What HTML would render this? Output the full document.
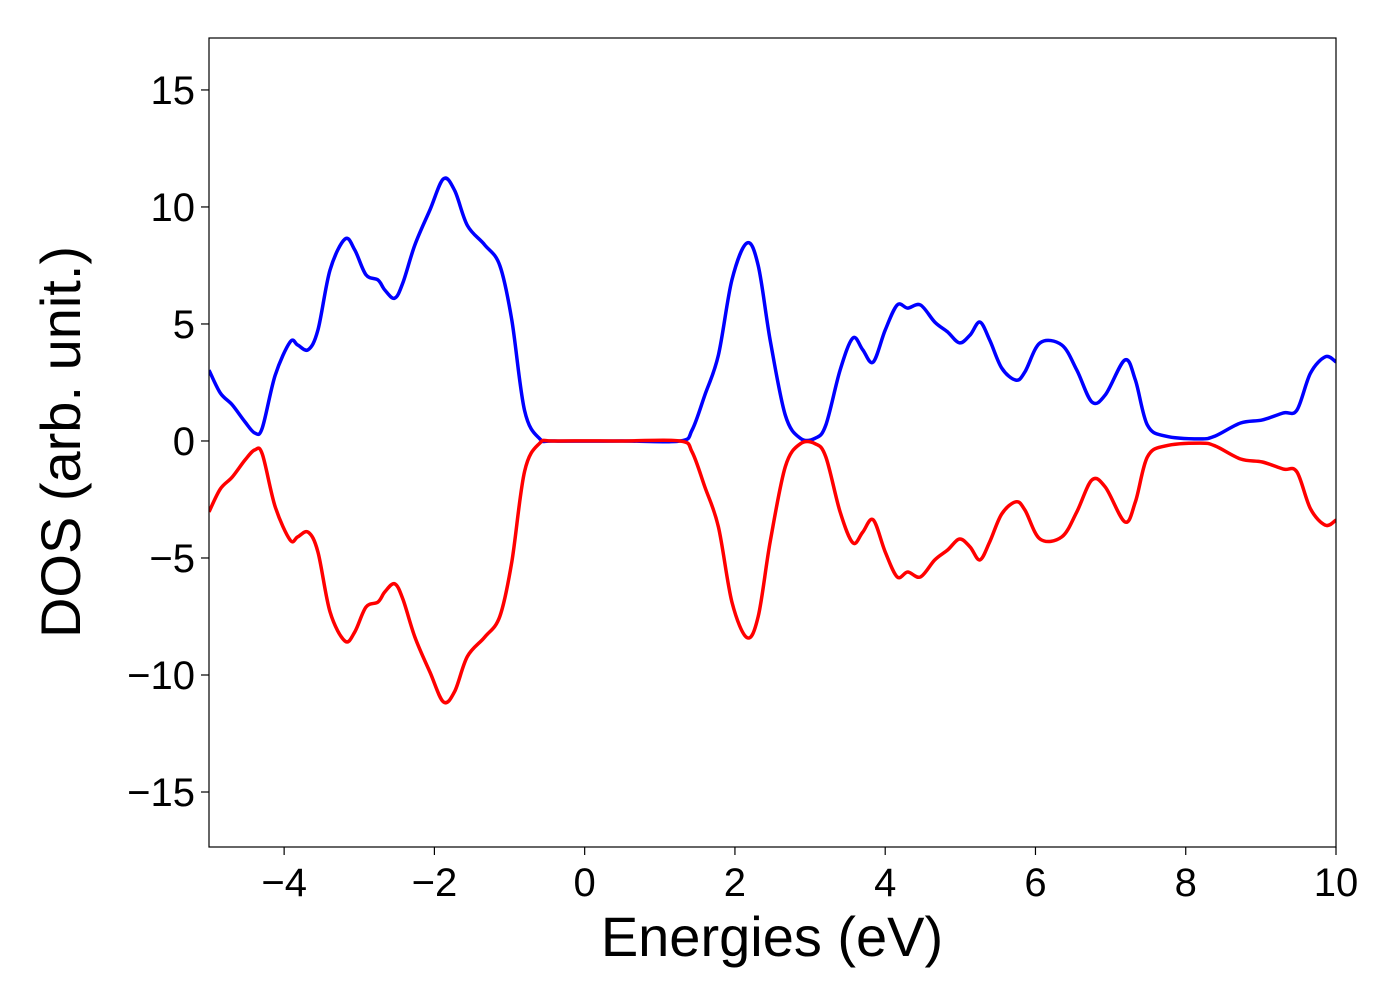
<!DOCTYPE html>
<html><head><meta charset="utf-8"><style>
html,body{margin:0;padding:0;background:#fff;}
svg text{font-family:"Liberation Sans",sans-serif;fill:#000;}
</style></head><body>
<svg id="chart" width="1400" height="1000" xmlns="http://www.w3.org/2000/svg">
<rect x="0" y="0" width="1400" height="1000" fill="#fff"/>
<g id="marks"></g>
<g id="axes"></g>
</svg>
<script>
const energies=[-5,-4.85,-4.69,-4.52,-4.39,-4.29,-4.12,-3.92,-3.82,-3.68,-3.55,-3.39,-3.19,-3.06,-2.91,-2.75,-2.66,-2.53,-2.42,-2.26,-2.06,-1.88,-1.73,-1.56,-1.33,-1.13,-0.97,-0.8,-0.6,-0.4,0.5,1.27,1.43,1.6,1.78,1.96,2.16,2.31,2.47,2.67,2.87,3.07,3.21,3.4,3.57,3.7,3.84,4.0,4.16,4.3,4.47,4.66,4.83,4.99,5.13,5.26,5.39,5.55,5.74,5.86,6.06,6.35,6.55,6.75,6.93,7.19,7.33,7.49,7.73,8.19,8.39,8.73,9.02,9.3,9.48,9.66,9.86,10];
const dosUp=[3.03,2.05,1.54,0.81,0.34,0.56,2.8,4.23,4.1,3.9,4.74,7.3,8.63,8.16,7.1,6.88,6.45,6.1,6.75,8.38,9.87,11.2,10.7,9.2,8.38,7.5,5.17,1.3,0.1,0,0,0,0.47,1.97,3.67,6.88,8.46,7.5,4.3,1.1,0.12,0.12,0.68,3.03,4.4,3.9,3.37,4.74,5.81,5.68,5.81,5.08,4.66,4.19,4.53,5.08,4.32,3.12,2.6,2.95,4.19,4.1,3.03,1.67,1.97,3.46,2.6,0.68,0.21,0.09,0.21,0.77,0.9,1.2,1.32,2.9,3.6,3.38];
const dosDown=[-3.03,-2.05,-1.54,-0.81,-0.38,-0.56,-2.8,-4.23,-4.1,-3.9,-4.74,-7.3,-8.55,-8.16,-7.1,-6.88,-6.45,-6.1,-6.75,-8.38,-9.87,-11.15,-10.7,-9.2,-8.38,-7.5,-5.17,-1.3,-0.1,0,0,0,-0.47,-1.97,-3.67,-6.88,-8.4,-7.5,-4.3,-1.1,-0.12,-0.12,-0.68,-3.03,-4.35,-3.9,-3.37,-4.74,-5.81,-5.6,-5.81,-5.08,-4.66,-4.19,-4.53,-5.08,-4.32,-3.12,-2.6,-2.95,-4.19,-4.1,-3.03,-1.67,-1.97,-3.46,-2.6,-0.68,-0.21,-0.09,-0.21,-0.77,-0.9,-1.2,-1.32,-2.9,-3.6,-3.38];
const xTicks=[-4,-2,0,2,4,6,8,10];
const yTicks=[-15,-10,-5,0,5,10,15];
const X0=209,X1=1336,Y0=38,Y1=847,xmin=-5,xmax=10,ymin=-17.35,ymax=17.22;
const sx=v=>X0+(v-xmin)/(xmax-xmin)*(X1-X0);
const sy=v=>Y1-(v-ymin)/(ymax-ymin)*(Y1-Y0);
const NS="http://www.w3.org/2000/svg";
function mk(t,a){const e=document.createElementNS(NS,t);for(const k in a)e.setAttribute(k,a[k]);return e;}
function pathFor(xs,ys){
  const p=xs.map((x,i)=>[sx(x),sy(ys[i])]);
  let d="M"+p[0][0].toFixed(1)+","+p[0][1].toFixed(1);
  for(let i=0;i<p.length-1;i++){
    const a=p[i-1]||p[i],b=p[i],c=p[i+1],e=p[i+2]||c;
    const c1=[b[0]+(c[0]-a[0])/6,b[1]+(c[1]-a[1])/6],c2=[c[0]-(e[0]-b[0])/6,c[1]-(e[1]-b[1])/6];
    d+=" C"+c1[0].toFixed(1)+","+c1[1].toFixed(1)+" "+c2[0].toFixed(1)+","+c2[1].toFixed(1)+" "+c[0].toFixed(1)+","+c[1].toFixed(1);
  }
  return d;
}
const marks=document.getElementById('marks'),axes=document.getElementById('axes');
const clip=mk('clipPath',{id:'pc'});clip.appendChild(mk('rect',{x:X0,y:Y0,width:X1-X0,height:Y1-Y0}));
document.getElementById('chart').insertBefore(clip,marks);
marks.setAttribute('clip-path','url(#pc)');
const up=mk('path',{d:pathFor(energies,dosUp),fill:'none',stroke:'#0000ff','stroke-width':3.5,'stroke-linejoin':'round'});


marks.appendChild(up);
const dn=mk('path',{d:pathFor(energies,dosDown),fill:'none',stroke:'#ff0000','stroke-width':3.5,'stroke-linejoin':'round'});


marks.appendChild(dn);
const fr=mk('rect',{x:X0,y:Y0,width:X1-X0,height:Y1-Y0,fill:'none',stroke:'#000','stroke-width':1.2});


axes.appendChild(fr);
const fmt=v=>v<0?"\u2212"+(-v):""+v;
xTicks.forEach(v=>{
  const x=sx(v);
  const l=mk('line',{x1:x,y1:Y1,x2:x,y2:Y1+8,stroke:'#000','stroke-width':1.2});
  
  
  axes.appendChild(l);
  const t=mk('text',{x:x,y:Y1+49,'font-size':40,'text-anchor':'middle'});
  
  
  t.textContent=fmt(v);axes.appendChild(t);
});
yTicks.forEach(v=>{
  const y=sy(v);
  const l=mk('line',{x1:X0-8,y1:y,x2:X0,y2:y,stroke:'#000','stroke-width':1.2});
  
  
  axes.appendChild(l);
  const t=mk('text',{x:X0-14,y:y+14,'font-size':40,'text-anchor':'end'});
  
  
  t.textContent=fmt(v);axes.appendChild(t);
});
const xl=mk('text',{x:772,y:956,'font-size':56,'text-anchor':'middle'});


xl.textContent='Energies (eV)';axes.appendChild(xl);
const yl=mk('text',{x:0,y:0,'font-size':56,'text-anchor':'middle',transform:'translate(80,442) rotate(-90)'});


yl.textContent='DOS (arb. unit.)';axes.appendChild(yl);
</script>
</body></html>
